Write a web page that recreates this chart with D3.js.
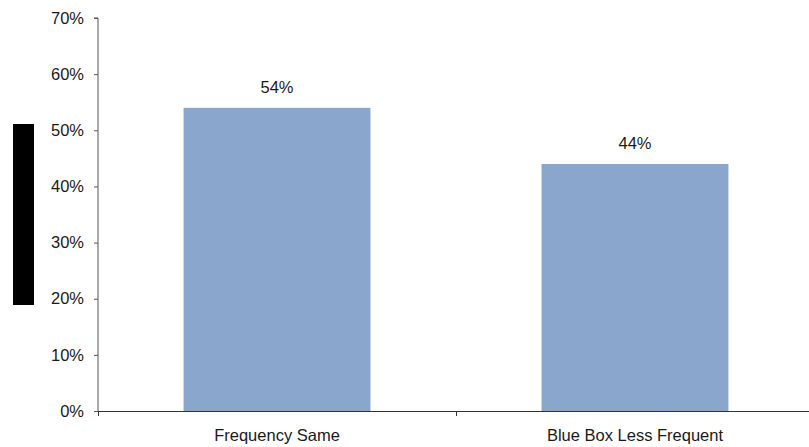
<!DOCTYPE html>
<html>
<head>
<meta charset="utf-8">
<script src="https://cdn.jsdelivr.net/npm/d3@7"></script>
<style>
  html, body { margin: 0; padding: 0; background: #fff; }
  svg { display: block; font-family: "Liberation Sans", Arial, sans-serif; }
</style>
</head>
<body>
<svg id="chart" width="809" height="447"></svg>
<script>
const categories = ["Frequency Same", "Blue Box Less Frequent"];
const values = [54, 44];
const yTicks = [0, 10, 20, 30, 40, 50, 60, 70];

const svg = d3.select("#chart");
const mLeft = 98, mRight = 814, mTop = 18, mBottom = 411;
const fs = 16.5;

const x = d3.scaleBand().domain(categories).range([mLeft, mRight]).paddingInner(0.478).paddingOuter(0.239);
const y = d3.scaleLinear().domain([0, 70]).range([mBottom, mTop]);

// black rectangle on the left
svg.append("rect").attr("x", 13).attr("y", 124).attr("width", 21).attr("height", 181).attr("fill", "#000");

// bars
svg.selectAll("rect.bar").data(values).enter().append("rect")
  .attr("class", "bar")
  .attr("x", (d, i) => x(categories[i]))
  .attr("y", d => y(d))
  .attr("width", x.bandwidth())
  .attr("height", d => y(0) - y(d))
  .attr("fill", "#8aa6cc");

// value labels
svg.selectAll("text.val").data(values).enter().append("text")
  .attr("class", "val")
  .attr("x", (d, i) => x(categories[i]) + x.bandwidth() / 2)
  .attr("y", d => y(d) - 14.5)
  .attr("text-anchor", "middle")
  .attr("font-size", fs)
  .attr("fill", "#1a1a1a")
  .text(d => d + "%");

// y axis
const yAxis = d3.axisLeft(y).tickValues(yTicks).tickFormat(d => d + "%").tickSize(4).tickPadding(10);
const gy = svg.append("g").attr("transform", `translate(${mLeft},0)`).call(yAxis);
gy.select(".domain").attr("stroke", "#555").attr("d", `M-4,${mTop}H0V${mBottom}`);
gy.selectAll(".tick line").attr("stroke", "#555");
gy.selectAll(".tick text").attr("font-size", fs).attr("font-family", "Liberation Sans, Arial, sans-serif").attr("fill", "#1a1a1a");

// x axis
const gx = svg.append("g").attr("transform", `translate(0,${mBottom})`);
gx.append("line").attr("x1", mLeft).attr("x2", mRight).attr("y1", 0.5).attr("y2", 0.5).attr("stroke", "#333");
const boundaries = [mLeft, mLeft + (mRight - mLeft) / 2, mRight];
gx.selectAll("line.tk").data(boundaries).enter().append("line")
  .attr("class", "tk")
  .attr("x1", d => d + 0.5).attr("x2", d => d + 0.5)
  .attr("y1", 0).attr("y2", 5)
  .attr("stroke", "#333");
gx.selectAll("text.cat").data(categories).enter().append("text")
  .attr("class", "cat")
  .attr("x", d => x(d) + x.bandwidth() / 2)
  .attr("y", 30)
  .attr("text-anchor", "middle")
  .attr("font-size", fs)
  .attr("fill", "#1a1a1a")
  .text(d => d);
</script>
</body>
</html>
